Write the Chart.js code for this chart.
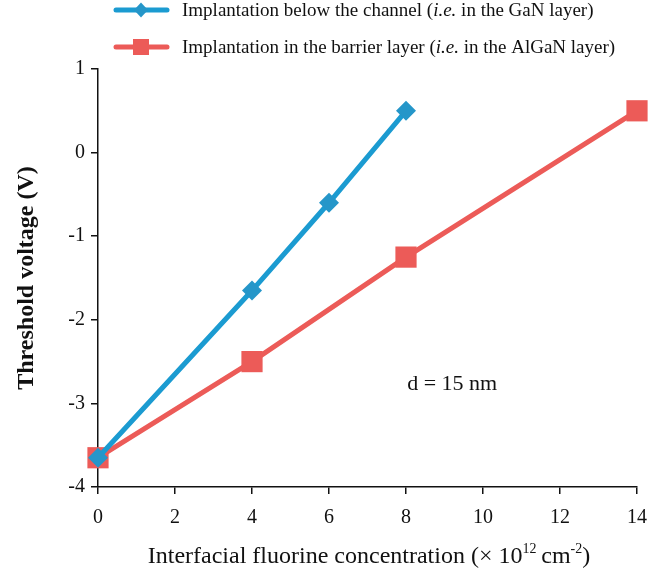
<!DOCTYPE html>
<html>
<head>
<meta charset="utf-8">
<script src="https://cdn.jsdelivr.net/npm/chart.js@4"></script>
<style>
  html, body { margin: 0; padding: 0; background: #fff; }
  #wrap { width: 670px; height: 576px; }
</style>
</head>
<body>
<div id="wrap"><canvas id="thresholdChart" width="670" height="576"></canvas></div>
<script>
// values
const xBelow = [0, 4, 6, 8];
const vthBelow = [-3.65, -1.65, -0.6, 0.5];
const xBarrier = [0, 4, 8, 14];
const vthBarrier = [-3.65, -2.5, -1.25, 0.5];
const xTicks = [0, 2, 4, 6, 8, 10, 12, 14];
const yTicks = [-4, -3, -2, -1, 0, 1];

const BLUE = '#1b9bd1';
const BLUE_MARK = '#2596c9';
const RED = '#ec5b58';
const SERIF = '"Liberation Serif", "DejaVu Serif", serif';

const toPoints = (xs, ys) => xs.map((x, i) => ({ x: x, y: ys[i] }));

// legend + axis titles + annotation, drawn on the canvas
const extras = {
    id: 'extras',
    afterDraw(chart) {
        const c = chart.ctx;
        const xs = chart.scales.x, ys = chart.scales.y;
        c.save();
        c.fillStyle = '#111';
        c.textBaseline = 'middle';

        // legend
        const entries = [
            { y: 10, color: BLUE, marker: 'diamond', parts: ['Implantation below the channel (', 'i.e.', ' in the GaN layer)'] },
            { y: 47, color: RED, marker: 'square', parts: ['Implantation in the barrier layer (', 'i.e.', ' in the AlGaN layer)'] },
        ];
        entries.forEach(e => {
            c.strokeStyle = e.color;
            c.lineWidth = 5;
            c.lineCap = 'round';
            c.beginPath();
            c.moveTo(116, e.y);
            c.lineTo(167, e.y);
            c.stroke();
            c.fillStyle = e.marker === 'diamond' ? BLUE_MARK : e.color;
            c.beginPath();
            if (e.marker === 'diamond') {
                c.moveTo(141, e.y - 7.5); c.lineTo(148, e.y); c.lineTo(141, e.y + 7.5); c.lineTo(134, e.y);
            } else {
                c.rect(133, e.y - 8, 16, 16);
            }
            c.fill();
            c.fillStyle = '#111';
            let tx = 182;
            e.parts.forEach((p, i) => {
                c.font = (i === 1 ? 'italic ' : '') + '19px ' + SERIF;
                c.textAlign = 'left';
                c.fillText(p, tx, e.y + 1);
                tx += c.measureText(p).width;
            });
        });

        // y title
        c.save();
        c.translate(27, 278);
        c.rotate(-Math.PI / 2);
        c.font = 'bold 24px ' + SERIF;
        c.textAlign = 'center';
        c.fillText('Threshold voltage (V)', 0, 0);
        c.restore();

        // x title with superscripts
        const pieces = [
            ['Interfacial fluorine concentration (\u00d7 10', 24, 0],
            ['12', 14, -8],
            ['\u2009cm', 24, 0],
            ['-2', 14, -8],
            [')', 24, 0],
        ];
        let total = 0;
        pieces.forEach(p => { c.font = p[1] + 'px ' + SERIF; total += c.measureText(p[0]).width; });
        let px = 369 - total / 2;
        c.textAlign = 'left';
        pieces.forEach(p => {
            c.font = p[1] + 'px ' + SERIF;
            c.fillText(p[0], px, 557 + p[2]);
            px += c.measureText(p[0]).width;
        });

        // annotation
        c.font = '22px ' + SERIF;
        c.textAlign = 'center';
        c.fillText('d = 15 nm', xs.getPixelForValue(9.2), ys.getPixelForValue(-2.77));
        c.restore();
    }
};

const axisCommon = {
    type: 'linear',
    grid: { display: true, drawOnChartArea: false, drawTicks: true, tickLength: 7, color: '#111', lineWidth: 1.5 },
    border: { display: true, color: '#111', width: 1.5 },
    ticks: { color: '#111', font: { family: SERIF, size: 20 } },
};

new Chart(document.getElementById('thresholdChart').getContext('2d'), {
    type: 'line',
    data: {
        datasets: [
            {
                label: 'Implantation below the channel (i.e. in the GaN layer)',
                data: toPoints(xBelow, vthBelow),
                borderColor: BLUE,
                backgroundColor: BLUE_MARK,
                borderWidth: 5,
                pointStyle: 'rectRot',
                pointRadius: 10,
                pointBorderWidth: 0,
                clip: false,
            },
            {
                label: 'Implantation in the barrier layer (i.e. in the AlGaN layer)',
                data: toPoints(xBarrier, vthBarrier),
                borderColor: RED,
                backgroundColor: RED,
                borderWidth: 5,
                pointStyle: 'rect',
                pointRadius: 15,
                pointBorderWidth: 0,
                clip: false,
            },
        ],
    },
    options: {
        responsive: false,
        animation: false,
        layout: { padding: { top: 69, right: 33, left: 0, bottom: 0 } },
        plugins: { legend: { display: false }, tooltip: { enabled: false } },
        scales: {
            x: {
                ...axisCommon,
                min: 0, max: 14,
                afterBuildTicks: s => { s.ticks = xTicks.map(v => ({ value: v })); },
                ticks: { ...axisCommon.ticks, padding: 12 },
                afterFit: s => { s.height = 576 - 487; },
            },
            y: {
                ...axisCommon,
                min: -4, max: 1,
                afterBuildTicks: s => { s.ticks = yTicks.map(v => ({ value: v })); },
                ticks: { ...axisCommon.ticks, padding: 6 },
                afterFit: s => { s.width = 98; },
            },
        },
    },
    plugins: [extras],
});
</script>
</body>
</html>
